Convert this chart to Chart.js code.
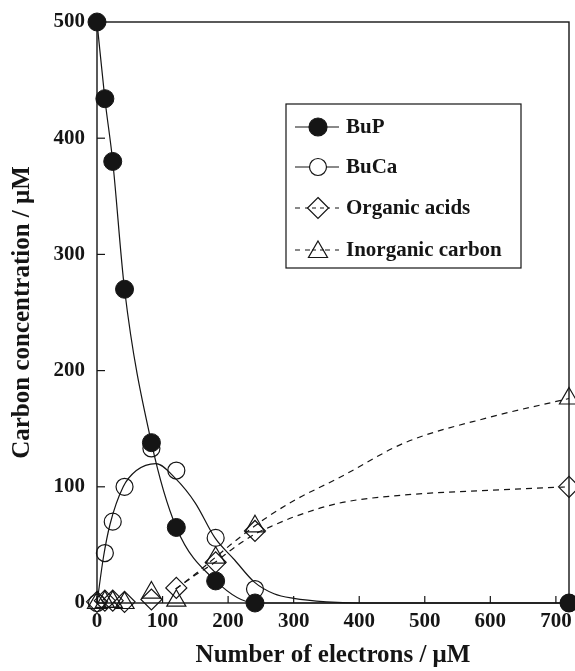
<!DOCTYPE html>
<html><head><meta charset="utf-8">
<script src="https://cdn.jsdelivr.net/npm/chart.js@4.4.1/dist/chart.umd.min.js"></script>
<style>html,body{margin:0;padding:0;background:#fff}#wrap{width:575px;height:671px;position:relative}</style>
</head><body><div id="wrap"><canvas id="c" width="575" height="671"></canvas></div>
<script>
// ---- data ----
const electrons       = [0, 12, 24, 42, 83, 121, 181, 241, 720];
const bup             = [500, 434, 380, 270, 138, 65, 19, 0, 0];
const buca            = [0, 43, 70, 100, 133, 114, 56, 12, 0];
const organicAcids    = [1, 2, 2, 1, 3, 13, 35, 62, 100];
const inorganicCarbon = [0, 1, 1, 0, 9, 2, 39, 66, 176];

// fitted curves
const bucaCurveX      = [0, 10, 20, 40, 60, 90, 120, 150, 180, 210, 240, 270, 300, 350, 400, 720];
const bucaCurveY      = [0, 40, 68, 100, 114, 120, 107, 86, 56, 37, 18, 8, 4, 1, 0, 0];
const acidCurveX      = [120, 150, 180, 210, 240, 270, 300, 370, 470, 600, 720];
const acidCurveY      = [12, 24, 35, 48, 59, 67, 74, 86, 93, 97, 100];
const inorgCurveX     = [120, 150, 180, 210, 240, 260, 300, 370, 470, 600, 720];
const inorgCurveY     = [12, 25, 39, 53, 66, 74, 88, 108, 138, 160, 176];

const xTickValues = [0, 100, 200, 300, 400, 500, 600, 700];
const yTickValues = [0, 100, 200, 300, 400, 500];
const seriesNames = ['BuP', 'BuCa', 'Organic acids', 'Inorganic carbon'];

const INK = '#151515';
const FONT = '"Liberation Serif", "DejaVu Serif", serif';
const pts = (xs, ys) => xs.map((x, i) => ({x, y: ys[i]}));

const datasets = [
  {label: 'bucaCurve', data: pts(bucaCurveX, bucaCurveY), showLine: true, pointRadius: 0,
   borderColor: INK, borderWidth: 1.2, cubicInterpolationMode: 'monotone', order: 10, clip: false},
  {label: 'acidCurve', data: pts(acidCurveX, acidCurveY), showLine: true, pointRadius: 0,
   borderColor: INK, borderWidth: 1.2, borderDash: [6, 5], cubicInterpolationMode: 'monotone', order: 10, clip: false},
  {label: 'inorgCurve', data: pts(inorgCurveX, inorgCurveY), showLine: true, pointRadius: 0,
   borderColor: INK, borderWidth: 1.2, borderDash: [6, 5], cubicInterpolationMode: 'monotone', order: 10, clip: false},
  {label: seriesNames[3], data: pts(electrons, inorganicCarbon), showLine: false, pointStyle: 'triangle',
   pointRadius: 11, backgroundColor: 'rgba(0,0,0,0)', borderColor: INK, pointBorderWidth: 1.2, order: 4, clip: false},
  {label: seriesNames[2], data: pts(electrons, organicAcids), showLine: false, pointStyle: 'rectRot',
   pointRadius: 10.5, backgroundColor: 'rgba(0,0,0,0)', borderColor: INK, pointBorderWidth: 1.2, order: 3, clip: false},
  {label: seriesNames[1], data: pts(electrons, buca), showLine: false, pointStyle: 'circle',
   pointRadius: 8.5, backgroundColor: 'rgba(0,0,0,0)', borderColor: INK, pointBorderWidth: 1.2, order: 2, clip: false},
  {label: seriesNames[0], data: pts(electrons, bup), showLine: true, pointStyle: 'circle',
   pointRadius: 9, backgroundColor: INK, borderColor: INK, borderWidth: 1.2, pointBorderWidth: 1,
   cubicInterpolationMode: 'monotone', order: 1, clip: false}
];

function drawMarker(ctx, style, x, y, r, fill) {
  ctx.beginPath();
  if (style === 'circle') ctx.arc(x, y, r, 0, Math.PI * 2);
  else if (style === 'rectRot') { ctx.moveTo(x, y - r); ctx.lineTo(x + r, y); ctx.lineTo(x, y + r); ctx.lineTo(x - r, y); ctx.closePath(); }
  else if (style === 'triangle') {
    for (let k = 0; k < 3; k++) { const a = k * 2 * Math.PI / 3; const px = x + Math.sin(a) * r, py = y - Math.cos(a) * r; k ? ctx.lineTo(px, py) : ctx.moveTo(px, py); }
    ctx.closePath();
  }
  ctx.fillStyle = fill ? INK : '#fff'; ctx.fill();
  ctx.stroke();
}

const framePlugin = {
  id: 'frame',
  beforeDatasetsDraw(chart) {
    const {ctx, chartArea: {left, right, top, bottom}, scales: {x, y}} = chart;
    ctx.save();
    ctx.strokeStyle = INK; ctx.lineWidth = 1.4; ctx.setLineDash([]);
    ctx.strokeRect(left, top, right - left, bottom - top);
    ctx.lineWidth = 1.2;
    x.ticks.forEach(t => { const px = x.getPixelForValue(t.value); ctx.beginPath(); ctx.moveTo(px, bottom); ctx.lineTo(px, bottom - 7); ctx.stroke(); });
    y.ticks.forEach(t => { const py = y.getPixelForValue(t.value); ctx.beginPath(); ctx.moveTo(left, py); ctx.lineTo(left + 8, py); ctx.stroke(); });
    // x tick labels
    ctx.fillStyle = INK; ctx.font = 'bold 21px ' + FONT; ctx.textAlign = 'center'; ctx.textBaseline = 'middle';
    x.ticks.forEach(t => { ctx.fillText(String(t.value), x.getPixelForValue(t.value), bottom + 19); });
    ctx.restore();
  }
};

const legendPlugin = {
  id: 'boxLegend',
  afterDraw(chart) {
    const ctx = chart.ctx;
    const bx = 286, by = 104, bw = 235, bh = 164;
    const rows = [
      {name: seriesNames[0], style: 'circle', r: 9, fill: true, dash: []},
      {name: seriesNames[1], style: 'circle', r: 8.5, fill: false, dash: []},
      {name: seriesNames[2], style: 'rectRot', r: 10.5, fill: false, dash: [5, 5]},
      {name: seriesNames[3], style: 'triangle', r: 11, fill: false, dash: [5, 5]}
    ];
    const ys = [127, 167, 208, 250];
    ctx.save();
    ctx.fillStyle = '#fff'; ctx.fillRect(bx, by, bw, bh);
    ctx.strokeStyle = INK; ctx.lineWidth = 1.2; ctx.strokeRect(bx, by, bw, bh);
    rows.forEach((r, i) => {
      const y = ys[i];
      ctx.setLineDash(r.dash); ctx.beginPath(); ctx.moveTo(295, y); ctx.lineTo(339, y); ctx.stroke();
      ctx.setLineDash([]);
      drawMarker(ctx, r.style, 318, y + (r.style === 'triangle' ? 2 : 0), r.r, r.fill);
      if (!r.fill && r.dash.length) { ctx.setLineDash([4, 4]); ctx.beginPath(); ctx.moveTo(312, y); ctx.lineTo(325, y); ctx.stroke(); ctx.setLineDash([]); }
      ctx.fillStyle = INK; ctx.font = 'bold 21px ' + FONT; ctx.textBaseline = 'middle'; ctx.textAlign = 'left';
      ctx.fillText(r.name, 346, y + 1);
    });
    ctx.restore();
  }
};

new Chart(document.getElementById('c'), {
  type: 'scatter',
  data: {datasets},
  options: {
    responsive: false, animation: false, devicePixelRatio: 1,
    layout: {autoPadding: false, padding: {top: 22, right: 6, left: 0, bottom: 0}},
    plugins: {legend: {display: false}, tooltip: {enabled: false}},
    scales: {
      x: {
        type: 'linear', min: 0, max: 720,
        afterBuildTicks: s => { s.ticks = xTickValues.map(v => ({value: v})); },
        afterFit: s => { s.height = 68; s.paddingLeft = 0; s.paddingRight = 0; },
        grid: {display: false, drawTicks: false}, border: {display: false},
        ticks: {display: false, stepSize: 100, includeBounds: false},
        title: {display: true, text: 'Number of electrons / μM', color: INK, padding: {top: 2, bottom: 0},
                font: {family: FONT, size: 25, weight: 'bold'}}
      },
      y: {
        type: 'linear', min: 0, max: 500,
        afterBuildTicks: s => { s.ticks = yTickValues.map(v => ({value: v})); },
        afterFit: s => { s.width = 97; s.paddingTop = 0; s.paddingBottom = 0; },
        grid: {display: false, drawTicks: false}, border: {display: false},
        ticks: {stepSize: 100, padding: 12, color: INK, font: {family: FONT, size: 21, weight: 'bold'}},
        title: {display: true, text: 'Carbon concentration / μM', color: INK, padding: {top: 8, bottom: 0},
                font: {family: FONT, size: 25, weight: 'bold'}}
      }
    }
  },
  plugins: [framePlugin, legendPlugin]
});
</script></body></html>
